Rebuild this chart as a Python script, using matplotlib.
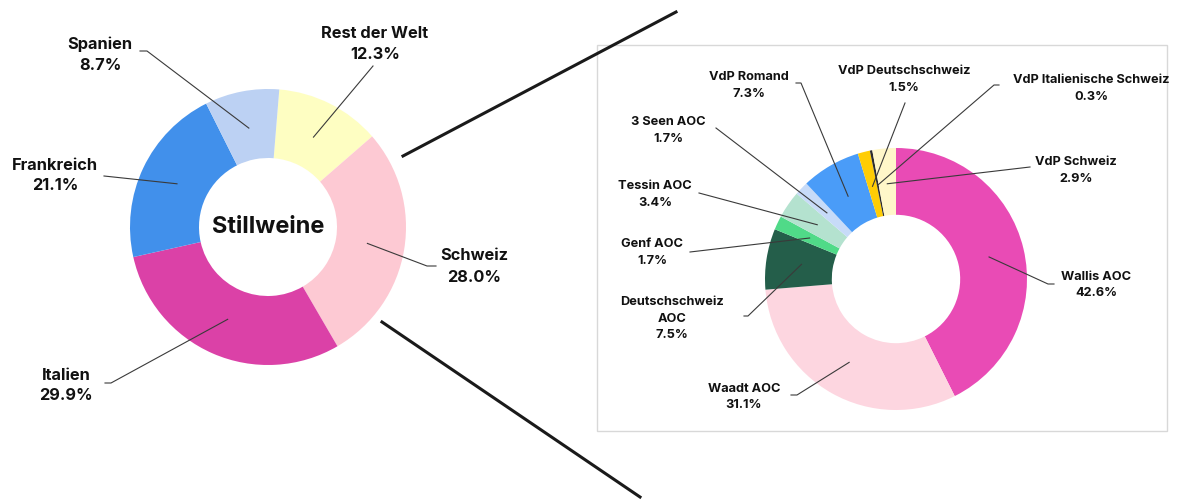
import numpy as np
import matplotlib
matplotlib.use("Agg")
import matplotlib.pyplot as plt
from matplotlib.patches import Rectangle

plt.rcParams['font.family'] = ['Inter', 'DejaVu Sans']

# data
left_names = ["Rest der Welt", "Schweiz", "Italien", "Frankreich", "Spanien"]
left_vals = [12.3, 28.0, 29.9, 21.1, 8.7]
left_cols = ["#fefec2", "#fdc9d3", "#db41a7", "#4190eb", "#bcd1f3"]

right_names = ["Wallis AOC", "Waadt AOC", "Deutschschweiz AOC", "Genf AOC", "Tessin AOC",
               "3 Seen AOC", "VdP Romand", "VdP Deutschschweiz",
               "VdP Italienische Schweiz", "VdP Schweiz"]
right_vals = [42.6, 31.1, 7.5, 1.7, 3.4, 1.7, 7.3, 1.5, 0.3, 2.9]
right_cols = ["#e94bb5", "#fdd6e0", "#245e4a", "#50da88", "#b4e2cf",
              "#c7dbf8", "#4a9cf8", "#ffcd05", "#2d2d2d", "#fff7c9"]

# label layout in pixels: (x center, first line y, elbow x, line start)
left_lab = {
    "Rest der Welt": (375, 33, None, (373, 66)),
    "Schweiz": (474, 256, 427, (436, 266)),
    "Italien": (66, 375, 111, (105, 383)),
    "Frankreich": (55, 165, None, (104, 176)),
    "Spanien": (100, 44, 147, (140, 51)),
}
right_lab = {
    "Wallis AOC": (1096, 277, 1048, (1054, 284)),
    "Waadt AOC": (744, 389, 797, (791, 395)),
    "Deutschschweiz AOC": (672, 302, 748, (744, 316)),
    "Genf AOC": (652, 244, None, (690, 252)),
    "Tessin AOC": (655, 186, None, (699, 193)),
    "3 Seen AOC": (668, 122, None, (716, 128)),
    "VdP Romand": (749, 77, 801, (796, 83)),
    "VdP Deutschschweiz": (904, 71, None, (905, 103)),
    "VdP Italienische Schweiz": (1091, 80, 994, (999, 85)),
    "VdP Schweiz": (1076, 162, None, (1030, 167)),
}

W, H = 1181, 501
fig = plt.figure(figsize=(W / 100, H / 100), dpi=100)


def pie_axes(cx, cy, r):
    return fig.add_axes([(cx - r) / W, (H - cy - r) / H, 2 * r / W, 2 * r / H])


ov = fig.add_axes([0, 0, 1, 1], zorder=5)
ov.set_xlim(0, W)
ov.set_ylim(H, 0)
ov.axis('off')

# right panel box and zoom lines
ov.add_patch(Rectangle((597, 45), 570, 386, fill=False, ec="#d8d8d8", lw=1))
ov.plot([403, 676], [156, 12], color="#1a1a1a", lw=2.2)
ov.plot([382, 640], [322, 497], color="#1a1a1a", lw=2.2)


def donut(ax, vals, cols, start, width):
    ax.pie(vals, colors=cols, startangle=start, counterclock=False, radius=1,
           wedgeprops=dict(width=width, linewidth=0))
    ax.set_xlim(-1, 1)
    ax.set_ylim(-1, 1)
    ax.apply_aspect()


def leaders(ax, names, vals, start, lay, fs, dy, r=0.73):
    tot = sum(vals)
    cum = np.cumsum(vals) - np.array(vals) / 2
    for name, c in zip(names, cum):
        th = np.radians(start - 360 * c / tot)
        p = ax.transData.transform((r * np.cos(th), r * np.sin(th)))
        px, py = ov.transData.inverted().transform(p)
        x, y0, elbow, st = lay[name]
        xs, ys = [st[0]], [st[1]]
        if elbow is not None:
            xs.append(elbow)
            ys.append(st[1])
        xs.append(px)
        ys.append(py)
        ov.plot(xs, ys, color="#3a3a3a", lw=0.8)
        lines = name.split(" ") if name == "Deutschschweiz AOC" else [name]
        lines = lines + ["%.1f%%" % vals[names.index(name)]]
        for i, t in enumerate(lines):
            ov.text(x, y0 + i * dy, t, ha="center", va="center", fontsize=fs,
                    fontweight="bold", color="#111111")


ax1 = pie_axes(268, 227, 138)
donut(ax1, left_vals, left_cols, 85.3, 0.5)
ax1.text(0, 0, "Stillweine", ha="center", va="center", fontsize=17,
         fontweight="bold", color="#111111")

ax2 = pie_axes(896, 279, 131)
donut(ax2, right_vals, right_cols, 90, 0.51)

leaders(ax1, left_names, left_vals, 85.3, left_lab, 11.8, 21)
leaders(ax2, right_names, right_vals, 90, right_lab, 9.2, 16.5)

fig.savefig("out.png", dpi=100)
